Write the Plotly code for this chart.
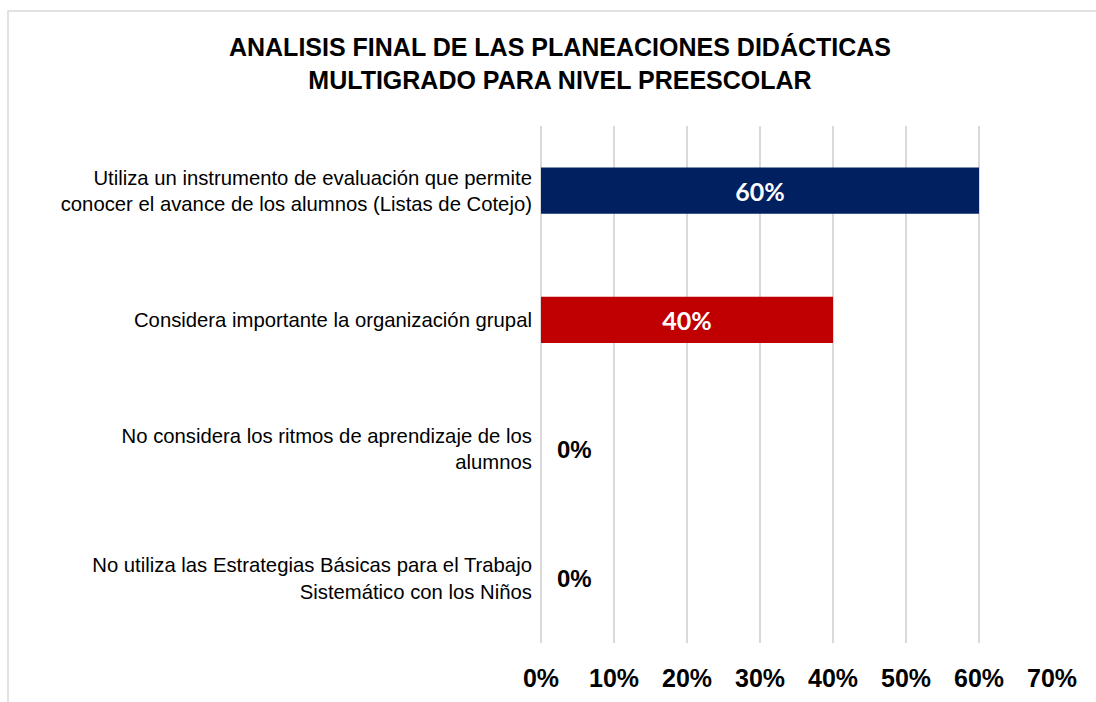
import plotly.graph_objects as go

categories = [
    "Utiliza un instrumento de evaluación que permite<br>conocer el avance de los alumnos (Listas de Cotejo)",
    "Considera importante la organización grupal",
    "No considera los ritmos de aprendizaje de los<br>alumnos",
    "No utiliza las Estrategias Básicas para el Trabajo<br>Sistemático con los Niños",
]
values = [0.60, 0.40, 0.0, 0.0]
colors = ["#002060", "#C00000", "#002060", "#C00000"]
tick_vals = [0, 0.1, 0.2, 0.3, 0.4, 0.5, 0.6, 0.7]
tick_text = ["0%", "10%", "20%", "30%", "40%", "50%", "60%", "70%"]
title_text = "ANALISIS FINAL DE LAS PLANEACIONES DIDÁCTICAS<br>MULTIGRADO PARA NIVEL PREESCOLAR"

W, H = 1096, 702
L, R, T, B = 541, 44, 126, 59

fig = go.Figure()
fig.add_trace(go.Bar(
    y=categories, x=values, orientation="h",
    marker=dict(color=colors, line=dict(width=0)),
    width=0.357,
    text=[f"{v:.0%}" if v > 0 else "" for v in values],
    textposition="inside", insidetextanchor="middle",
    textfont=dict(family="Lato", size=25, color="white", weight="bold"),
    hoverinfo="skip",
))

annotations = []
for c, v in zip(categories, values):
    if v == 0:
        annotations.append(dict(
            x=v, y=c, xref="x", yref="y", text=f"{v:.0%}", showarrow=False,
            xanchor="left", xshift=14,
            font=dict(family="Liberation Sans", size=24, color="black", weight="bold"),
        ))

pw, ph = W - L - R, H - T - B
fig.add_shape(type="rect", xref="paper", yref="paper",
              x0=(8 - L) / pw, x1=(W + 50 - L) / pw,
              y0=(H - B - (H + 50)) / ph, y1=(H - B - 11) / ph,
              line=dict(color="#d9d9d9", width=1.5), fillcolor="rgba(0,0,0,0)", layer="below")

fig.update_layout(
    width=W, height=H,
    margin=dict(l=L, r=R, t=T, b=B, pad=0, autoexpand=False),
    paper_bgcolor="white", plot_bgcolor="white",
    showlegend=False,
    title=dict(text="<b>" + title_text + "</b>", x=560 / W, xanchor="center",
               y=1 - 56 / H, yanchor="middle", yref="container",
               font=dict(family="Liberation Sans", size=25, color="black")),
    xaxis=dict(range=[0, 0.7], tickvals=tick_vals, ticktext=tick_text,
               showgrid=True, gridcolor="#d9d9d9", gridwidth=1.5,
               zeroline=True, zerolinecolor="#d9d9d9", zerolinewidth=1.5,
               showline=False, ticks="outside", ticklen=13, tickcolor="rgba(0,0,0,0)",
               tickfont=dict(family="Liberation Sans", size=25, color="black", weight="bold"),
               automargin=False, fixedrange=True),
    yaxis=dict(categoryorder="array", categoryarray=categories, autorange="reversed",
               showgrid=False, zeroline=False, showline=False,
               ticks="outside", ticklen=4, tickcolor="rgba(0,0,0,0)",
               tickfont=dict(family="Liberation Sans", size=20.3, color="black"),
               automargin=False, fixedrange=True),
    annotations=annotations,
)

fig.write_html("out.html", config={"displayModeBar": False},
               post_script="document.body.style.margin='0';document.body.style.overflow='hidden';")
